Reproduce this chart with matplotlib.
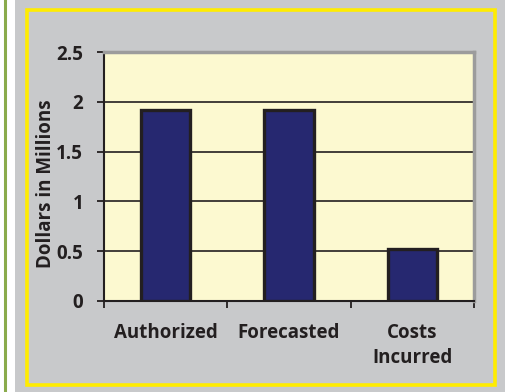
import matplotlib
matplotlib.use("Agg")
import matplotlib.pyplot as plt
from matplotlib.patches import Rectangle
from matplotlib.lines import Line2D

# data
categories = ["Authorized", "Forecasted", "Costs\nIncurred"]
values = [1.92, 1.92, 0.52]
yticks = [0, 0.5, 1, 1.5, 2, 2.5]
ytick_labels = ["0", "0.5", "1", "1.5", "2", "2.5"]
ylabel = "Dollars in Millions"

plt.rcParams['font.family'] = ['Open Sans', 'DejaVu Sans']
plt.rcParams['font.weight'] = 'bold'
FS = 13.5

W, H = 506, 392
fig = plt.figure(figsize=(W / 100, H / 100), dpi=100)

def fx(px):
    return px / W

def fy(py):
    return 1 - py / H

# page decoration: white margin, green rule, gray panel, yellow frame
fig.patch.set_facecolor("white")
fig.patches.append(Rectangle((fx(15), 0), 1 - fx(15), 1, transform=fig.transFigure,
                             facecolor="#c8c9cb", edgecolor="none", zorder=-2))
fig.lines.append(Line2D([fx(4.5), fx(4.5)], [0, 1], transform=fig.transFigure,
                        color="#8aab4c", lw=2.2, zorder=-1))
fig.patches.append(Rectangle((fx(27), fy(385)), fx(495) - fx(27), fy(10) - fy(385),
                             transform=fig.transFigure, facecolor="none",
                             edgecolor="#ffec00", lw=2.6, zorder=-1))

ax = fig.add_axes([fx(104), fy(301), fx(474) - fx(104), fy(52) - fy(301)])
ax.set_zorder(2)
ax.set_facecolor("#fcf9d0")

x = list(range(len(categories)))
ax.bar(x, values, width=0.4, color="#262870", edgecolor="#231f20", linewidth=2.4, zorder=3)

ax.set_xlim(-0.5, len(categories) - 0.5)
ax.set_ylim(0, 2.5)
ax.set_yticks(yticks)
ax.set_yticklabels(ytick_labels)
ax.yaxis.grid(True, color="#231f20", lw=1.2)
ax.set_axisbelow(True)

# ticks between categories, labels at centres
ax.set_xticks([i - 0.5 for i in range(len(categories) + 1)])
ax.set_xticklabels([])
ax.set_xticks(x, minor=True)
ax.set_xticklabels(categories, minor=True, fontsize=FS, fontweight='bold',
                   color="#231f20", linespacing=1.3)
ax.tick_params(axis='x', which='major', direction='out', length=5, width=1.3, color="#231f20")
ax.tick_params(axis='x', which='minor', length=0, pad=16)
ax.tick_params(axis='y', direction='out', length=5, width=1.3, color="#231f20",
               pad=10, labelsize=FS, labelcolor="#231f20")

for s in ("left", "bottom"):
    ax.spines[s].set_color("#231f20")
    ax.spines[s].set_linewidth(1.5)
for s in ("top", "right"):
    ax.spines[s].set_color("#9c9c9c")
    ax.spines[s].set_linewidth(2.5)

fig.text(fx(46), fy(184), ylabel, rotation=90, ha="center", va="center",
         fontsize=FS, fontweight='bold', color="#231f20")

fig.savefig("out.png", dpi=100, facecolor=fig.get_facecolor())
